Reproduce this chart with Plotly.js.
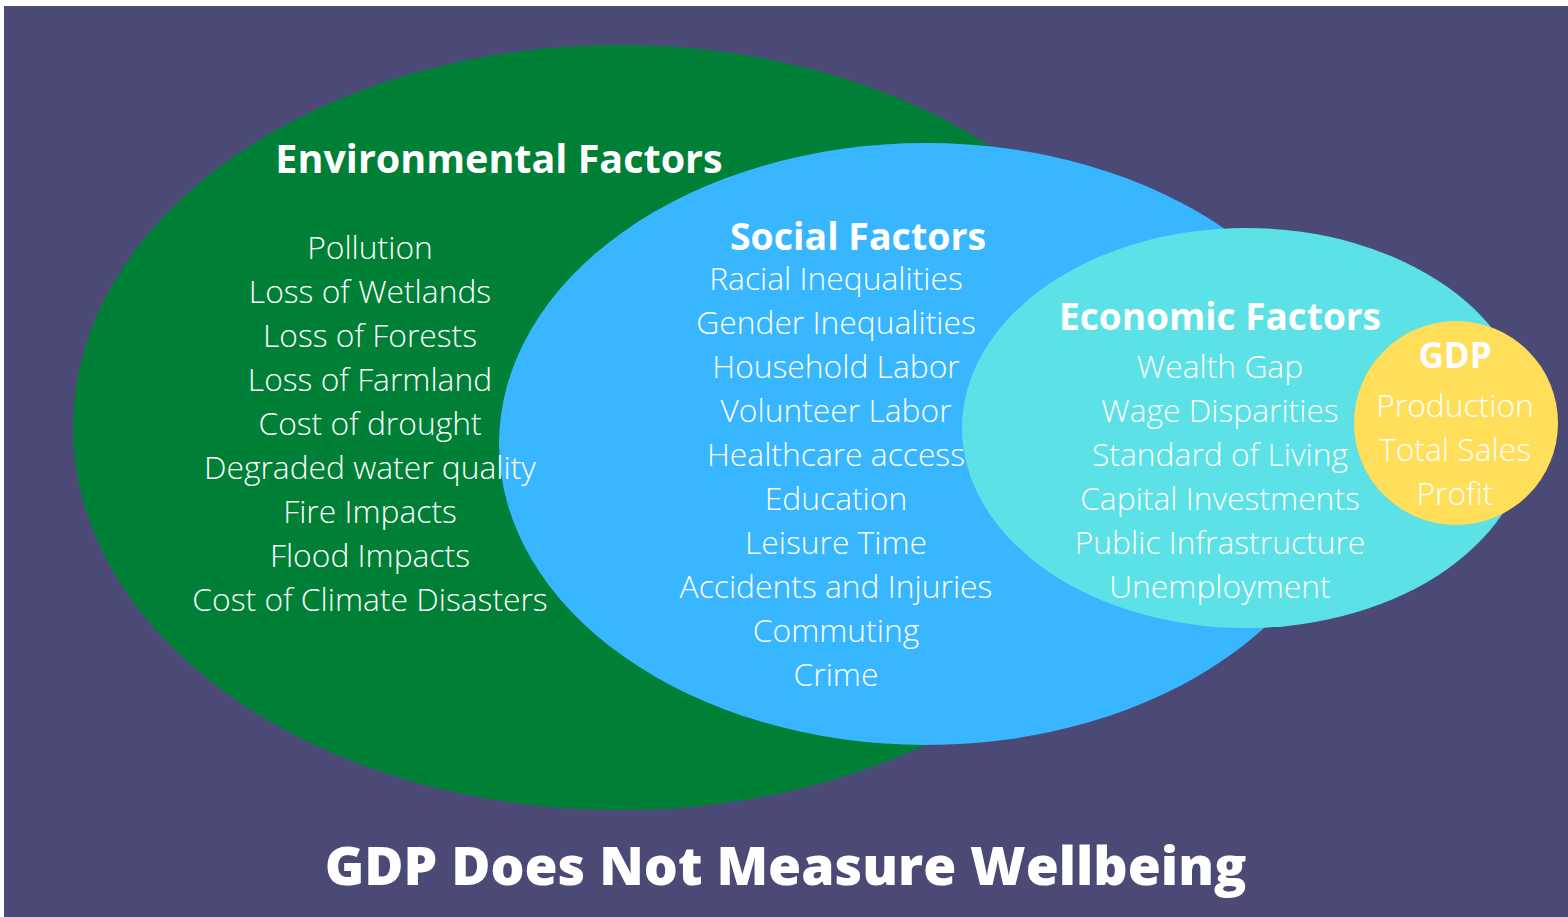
<!DOCTYPE html>
<html>
<head>
<meta charset="utf-8">
<script src="https://cdn.plot.ly/plotly-3.0.1.min.js"></script>
<style>html,body{margin:0;padding:0;background:#fff;}#chart{width:1568px;height:917px;}</style>
</head>
<body>
<div id="chart"></div>
<script>
// ---- data ----
const chartTitle = "GDP Does Not Measure Wellbeing";
const groupTitles = ["Environmental Factors", "Social Factors", "Economic Factors", "GDP"];
const environmentalItems = ["Pollution", "Loss of Wetlands", "Loss of Forests", "Loss of Farmland",
  "Cost of drought", "Degraded water quality", "Fire Impacts", "Flood Impacts", "Cost of Climate Disasters"];
const socialItems = ["Racial Inequalities", "Gender Inequalities", "Household Labor", "Volunteer Labor",
  "Healthcare access", "Education", "Leisure Time", "Accidents and Injuries", "Commuting", "Crime"];
const economicItems = ["Wealth Gap", "Wage Disparities", "Standard of Living", "Capital Investments",
  "Public Infrastructure", "Unemployment"];
const gdpItems = ["Production", "Total Sales", "Profit"];

// ---- layout helpers ----
const W = 1568, H = 917;
const FONT = "Open Sans, Noto Sans, sans-serif";
const colors = {bg: "#4b4a76", env: "#008037", soc: "#38b6ff", eco: "#5ce1e6", gdp: "#ffde59"};

function ellipse(cx, cy, rx, ry, color) {
  return {type: "circle", xref: "x", yref: "y", x0: cx - rx, x1: cx + rx, y0: cy - ry, y1: cy + ry,
    fillcolor: color, line: {width: 0}, layer: "below"};
}

function listTrace(items, cx, y0, step) {
  return {
    type: "scatter", mode: "text", hoverinfo: "skip", showlegend: false,
    x: items.map(() => cx), y: items.map((_, i) => y0 + i * step), text: items,
    textposition: "middle center",
    textfont: {family: FONT, size: 31.8, color: "#ffffff", weight: 300}
  };
}
function titleTrace(text, cx, cy, size) {
  return {
    type: "scatter", mode: "text", hoverinfo: "skip", showlegend: false,
    x: [cx], y: [cy], text: [text], textposition: "middle center",
    textfont: {family: FONT, size: size, color: "#ffffff", weight: 700}
  };
}

const traces = [
  titleTrace(groupTitles[0], 499, 163, 39.5),
  listTrace(environmentalItems, 370, 251, 44),
  titleTrace(groupTitles[1], 858, 241, 37.5),
  listTrace(socialItems, 836, 282, 44),
  titleTrace(groupTitles[2], 1220, 321, 37),
  listTrace(economicItems, 1220, 370, 44),
  titleTrace(groupTitles[3], 1455, 359, 35),
  listTrace(gdpItems, 1455, 409, 44)
];

const layout = {
  width: W, height: H,
  margin: {l: 0, r: 0, t: 0, b: 0, pad: 0},
  paper_bgcolor: "#ffffff", plot_bgcolor: "rgba(0,0,0,0)",
  xaxis: {range: [0, W], visible: false, fixedrange: true},
  yaxis: {range: [H, 0], visible: false, fixedrange: true},
  title: {
    text: chartTitle, x: 0.501, xanchor: "center", y: 1 - 866 / H, yanchor: "middle",
    font: {family: FONT, size: 53.5, color: "#ffffff", weight: 800}
  },
  shapes: [
    {type: "rect", xref: "x", yref: "y", x0: 4, x1: W, y0: 6, y1: H, fillcolor: colors.bg, line: {width: 0}, layer: "below"},
    ellipse(620, 427.5, 547, 382.5, colors.env),
    ellipse(926, 444, 427, 301, colors.soc),
    ellipse(1246, 428, 284, 200, colors.eco),
    ellipse(1456, 423, 102, 102, colors.gdp)
  ]
};

Plotly.newPlot("chart", traces, layout, {staticPlot: true, displayModeBar: false});
</script>
</body>
</html>
